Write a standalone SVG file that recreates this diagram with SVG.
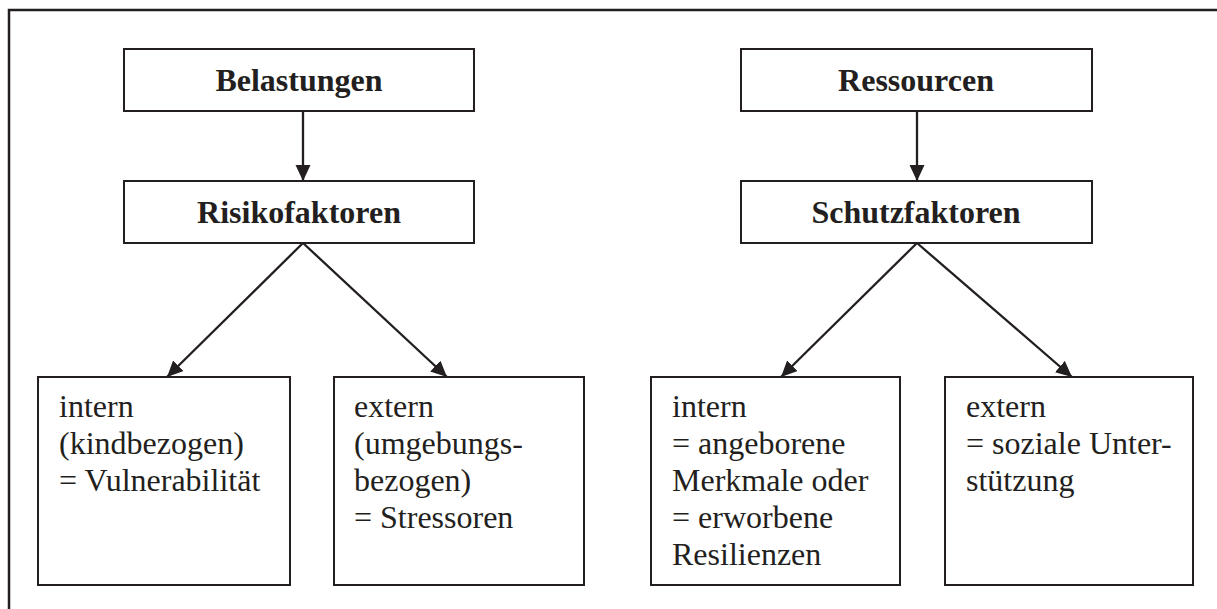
<svg xmlns="http://www.w3.org/2000/svg" width="1217" height="609" viewBox="0 0 1217 609">
<style>
.box{fill:#fff;stroke:#231f20;stroke-width:2}
.frame{fill:none;stroke:#231f20;stroke-width:2.5}
.title{font-family:"Liberation Serif","Times New Roman",serif;font-weight:bold;font-size:32px;fill:#231f20;text-anchor:middle}
.body{font-family:"Liberation Serif","Times New Roman",serif;font-size:32px;fill:#231f20}
.conn{fill:none;stroke:#231f20;stroke-width:2.3}
</style>
<defs>
<marker id="arr" markerUnits="userSpaceOnUse" markerWidth="18" markerHeight="16" refX="16" refY="7.5" orient="auto">
<path d="M0,0 L16,7.5 L0,15 z" fill="#231f20"/>
</marker>
</defs>
<rect class="frame" x="9" y="10" width="1230" height="620"/>
<g id="connectors">
<line class="conn" x1="303" y1="111" x2="303" y2="181" marker-end="url(#arr)"/>
<line class="conn" x1="303" y1="243" x2="167" y2="377" marker-end="url(#arr)"/>
<line class="conn" x1="303" y1="243" x2="447" y2="377" marker-end="url(#arr)"/>
<line class="conn" x1="917" y1="111" x2="917" y2="181" marker-end="url(#arr)"/>
<line class="conn" x1="917" y1="243" x2="781" y2="377" marker-end="url(#arr)"/>
<line class="conn" x1="917" y1="243" x2="1072" y2="377" marker-end="url(#arr)"/>
</g>
<g id="belastungen">
<rect class="box" x="124" y="49" width="350" height="62"/>
<text class="title" x="299" y="91">Belastungen</text>
</g>
<g id="risikofaktoren">
<rect class="box" x="124" y="181" width="350" height="62"/>
<text class="title" x="299" y="223">Risikofaktoren</text>
</g>
<g id="ressourcen">
<rect class="box" x="741" y="49" width="351" height="62"/>
<text class="title" x="916" y="91">Ressourcen</text>
</g>
<g id="schutzfaktoren">
<rect class="box" x="741" y="181" width="351" height="62"/>
<text class="title" x="916" y="223">Schutzfaktoren</text>
</g>
<g id="risiko-intern">
<rect class="box" x="38" y="377" width="252" height="208"/>
<text class="body" x="59" y="417">intern</text>
<text class="body" x="59" y="454">(kindbezogen)</text>
<text class="body" x="59" y="491">= Vulnerabilität</text>
</g>
<g id="risiko-extern">
<rect class="box" x="334" y="377" width="250" height="208"/>
<text class="body" x="354" y="417">extern</text>
<text class="body" x="354" y="454">(umgebungs-</text>
<text class="body" x="354" y="491">bezogen)</text>
<text class="body" x="354" y="528">= Stressoren</text>
</g>
<g id="schutz-intern">
<rect class="box" x="651" y="377" width="249" height="208"/>
<text class="body" x="672" y="417">intern</text>
<text class="body" x="672" y="454">= angeborene</text>
<text class="body" x="672" y="491">Merkmale oder</text>
<text class="body" x="672" y="528">= erworbene</text>
<text class="body" x="672" y="565">Resilienzen</text>
</g>
<g id="schutz-extern">
<rect class="box" x="945" y="377" width="248" height="208"/>
<text class="body" x="966" y="417">extern</text>
<text class="body" x="966" y="454">= soziale Unter-</text>
<text class="body" x="966" y="491">stützung</text>
</g>
</svg>
